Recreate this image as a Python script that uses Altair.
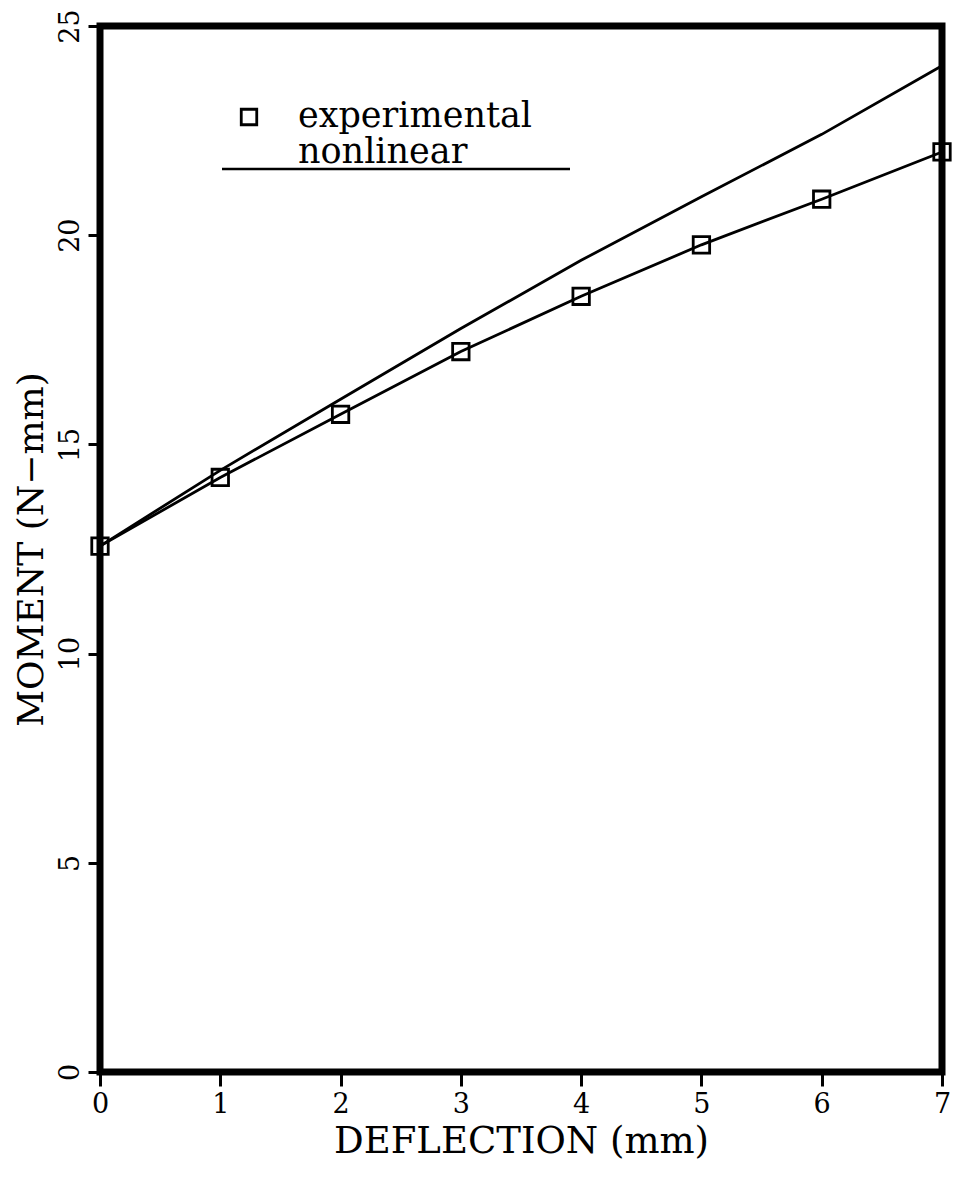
import altair as alt
import pandas as pd

# ---- data ----
deflection = [0, 1, 2, 3, 4, 5, 6, 7]
moment_experimental = [12.57, 14.21, 15.72, 17.22, 18.54, 19.77, 20.86, 21.99]
moment_nonlinear = [12.57, 14.38, 16.08, 17.77, 19.40, 20.92, 22.41, 24.05]
x_ticks = [0, 1, 2, 3, 4, 5, 6, 7]
y_ticks = [0, 5, 10, 15, 20, 25]
legend_labels = ["experimental", "nonlinear"]

exp_df = pd.DataFrame({"d": deflection, "m": moment_experimental})
nl_df = pd.DataFrame({"d": deflection, "m": moment_nonlinear})

FONT = "DejaVu Serif"

common_axis = dict(
    domain=False, grid=False, ticks=True, tickColor="black", tickWidth=3,
    labelFont=FONT, labelFontSize=27, labelColor="black", labelFlush=False,
    titleFont=FONT, titleFontWeight="normal", titleColor="black",
)

x_enc = alt.X(
    "d:Q",
    scale=alt.Scale(domain=[0, 7], nice=False, zero=False),
    axis=alt.Axis(values=x_ticks, title="DEFLECTION (mm)", tickSize=14,
                  labelPadding=5, titleFontSize=37, titlePadding=6,
                  **common_axis),
)
y_enc = alt.Y(
    "m:Q",
    scale=alt.Scale(domain=[0, 25], nice=False),
    axis=alt.Axis(values=y_ticks, title="MOMENT (N−mm)", tickSize=12,
                  labelAngle=270, labelAlign="center", labelBaseline="bottom",
                  labelPadding=4, titleFontSize=36, titlePadding=6,
                  **common_axis),
)

nl_line = alt.Chart(nl_df).mark_line(color="black", strokeWidth=2.8).encode(x=x_enc, y=y_enc)
exp_line = alt.Chart(exp_df).mark_line(color="black", strokeWidth=2.8).encode(x=x_enc, y=y_enc)
exp_pts = alt.Chart(exp_df).mark_point(
    shape="square", filled=False, size=270, strokeWidth=2.8, color="black", opacity=1
).encode(x=x_enc, y=y_enc)

# ---- in-plot legend (one two-line text block) ----
leg_df = pd.DataFrame({"label": ["\n".join(legend_labels)]})
leg_sym = alt.Chart(leg_df).mark_point(
    shape="square", filled=False, size=240, strokeWidth=2.8, color="black", opacity=1
).encode(x=alt.value(149), y=alt.value(91))
leg_txt = alt.Chart(leg_df).mark_text(
    align="left", baseline="alphabetic", font=FONT, fontSize=35, color="black",
    lineBreak="\n", lineHeight=36,
).encode(x=alt.value(198), y=alt.value(101), text="label:N")
leg_rule = alt.Chart(leg_df).mark_rule(color="black", strokeWidth=2.5).encode(
    x=alt.value(122), x2=alt.value(470), y=alt.value(143)
)

chart = alt.layer(
    nl_line, exp_line, exp_pts, leg_sym, leg_txt, leg_rule
).properties(
    width=842, height=1046,
    autosize=alt.AutoSizeParams(type="none"),
    padding={"left": 92, "top": 18, "right": 10, "bottom": 100},
    background="white",
).configure_view(stroke="black", strokeWidth=7)

chart.save("out.html", embed_options={"renderer": "svg", "actions": False})
